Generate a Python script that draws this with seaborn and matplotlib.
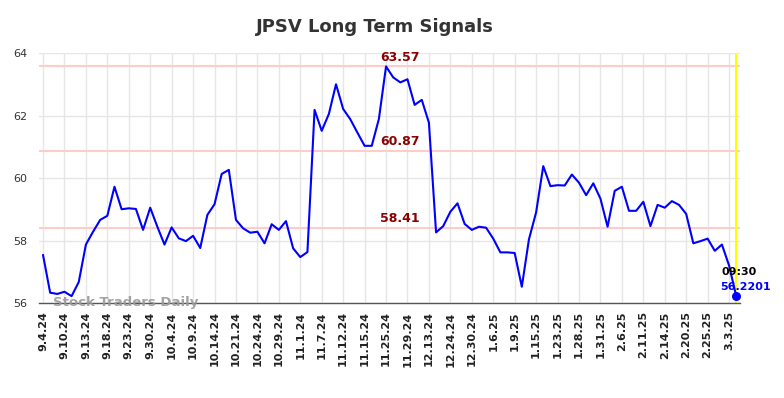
import matplotlib
matplotlib.use("Agg")
import matplotlib.pyplot as plt
import seaborn as sns
import pandas as pd

ticker = "JPSV"
tick_labels = ["9.4.24", "9.10.24", "9.13.24", "9.18.24", "9.23.24", "9.30.24", "10.4.24",
               "10.9.24", "10.14.24", "10.21.24", "10.24.24", "10.29.24", "11.1.24", "11.7.24",
               "11.12.24", "11.15.24", "11.25.24", "11.29.24", "12.13.24", "12.24.24", "12.30.24",
               "1.6.25", "1.9.25", "1.15.25", "1.23.25", "1.28.25", "1.31.25", "2.6.25",
               "2.11.25", "2.14.25", "2.20.25", "2.25.25", "3.3.25"]
prices = [57.54, 56.33, 56.29, 56.36, 56.22, 56.67, 57.87, 58.28, 58.66, 58.79,
          59.72, 59.00, 59.03, 59.01, 58.34, 59.05, 58.44, 57.87, 58.42, 58.07,
          57.98, 58.15, 57.76, 58.82, 59.16, 60.13, 60.26, 58.66, 58.39, 58.25,
          58.28, 57.91, 58.52, 58.34, 58.62, 57.75, 57.47, 57.63, 62.18, 61.51,
          62.05, 63.00, 62.21, 61.88, 61.45, 61.03, 61.03, 61.89, 63.57, 63.22,
          63.06, 63.16, 62.34, 62.50, 61.77, 58.26, 58.46, 58.92, 59.19, 58.53,
          58.34, 58.44, 58.41, 58.06, 57.62, 57.62, 57.60, 56.52, 58.04, 58.90,
          60.38, 59.74, 59.77, 59.76, 60.11, 59.85, 59.45, 59.83, 59.34, 58.44,
          59.59, 59.72, 58.95, 58.95, 59.24, 58.46, 59.14, 59.05, 59.26, 59.14,
          58.85, 57.91, 57.98, 58.06, 57.67, 57.87, 57.20, 56.2201]
signal_levels = [63.57, 60.87, 58.41]
last_time = "09:30"

df = pd.DataFrame({"idx": range(len(prices)), "price": prices})
last_i = len(prices) - 1

sns.set_style("white")
fig = plt.figure(figsize=(7.84, 3.98), dpi=100)
ax = fig.add_axes([0.0503, 0.2387, 0.8933, 0.6281])

# grid
ax.set_xticks(range(0, len(prices), 3))
ax.set_xticklabels(tick_labels, rotation=90, fontsize=8, fontweight="bold", color="#222222")
ax.set_yticks([56, 58, 60, 62, 64])
ax.tick_params(axis="y", labelsize=8, colors="#333333", length=0, pad=9)
ax.tick_params(axis="x", length=0, pad=6)
ax.grid(True, color="#e6e6e6", linewidth=1)
ax.set_axisbelow(True)

for lvl in signal_levels:
    ax.axhline(lvl, color="#ffcccc", linewidth=1.5, zorder=1)
    ax.text(49.9, lvl + 0.08, f"{lvl:.2f}", ha="center", va="bottom",
            color="#8b0000", fontsize=9, fontweight="bold")

sns.lineplot(data=df, x="idx", y="price", ax=ax, color="#0000ff", linewidth=1.5, zorder=3)
ax.axvline(last_i, color="#ffff00", linewidth=1.5, zorder=2)
ax.scatter([last_i], [prices[-1]], color="#0000ff", s=30, zorder=4)
ax.text(last_i - 2.1, 56.99, last_time, ha="left", va="center", fontsize=8,
        fontweight="bold", color="black")
ax.text(last_i - 2.2, 56.51, f"{prices[-1]:.4f}", ha="left", va="center", fontsize=8,
        fontweight="bold", color="#0000ff")

ax.text(1.4, 56.0, "Stock Traders Daily", ha="left", va="center", fontsize=9.5,
        fontweight="bold", color="#999999", alpha=0.9, zorder=5)

ax.set_xlim(-0.5, last_i + 0.5)
ax.set_ylim(56, 64)
ax.set_xlabel("")
ax.set_ylabel("")
for s in ["top", "right", "left"]:
    ax.spines[s].set_visible(False)
ax.spines["bottom"].set_color("#555555")
ax.spines["bottom"].set_linewidth(1)

fig.suptitle(f"{ticker} Long Term Signals", x=0.478, y=0.955, fontsize=13,
             fontweight="bold", color="#333333")

fig.savefig("out.png", dpi=100)
